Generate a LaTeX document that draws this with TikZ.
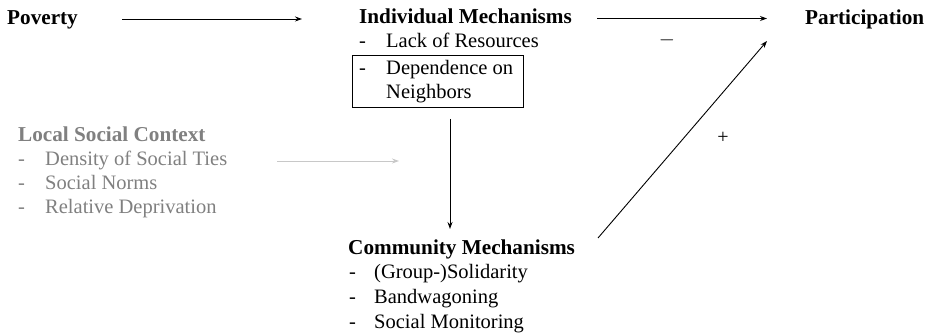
\documentclass[tikz,border=0pt]{standalone}
\usepackage{fontspec}
\setmainfont{Liberation Serif}
\usetikzlibrary{arrows.meta}
\definecolor{ctxgray}{RGB}{128,128,128}
\definecolor{ctxarrow}{RGB}{200,200,200}
\tikzset{
  txt/.style={inner sep=0pt, anchor=base west, font=\fontsize{20.5}{24}\selectfont},
  head/.style={txt, font=\fontsize{21.2}{24}\selectfont\bfseries},
  arr/.style={line width=0.9pt, -{Stealth[length=7pt,width=5pt]}},
  grayarr/.style={arr, draw=ctxarrow},
  sign/.style={inner sep=0pt, font=\fontsize{20}{24}\selectfont},
  ctx/.style={text=ctxgray},
  markbox/.style={draw, line width=0.9pt, inner sep=0pt, minimum width=171pt, minimum height=52pt}
}
\begin{document}
\begin{tikzpicture}[x=1pt, y=-1pt]
\useasboundingbox (0,0) rectangle (932,336);

% Poverty
\node[head] (pov) at (7,25) {Poverty};

% Individual mechanisms
\node[head] (ind) at (359,24) {Individual Mechanisms};
\node[txt] (ind1d) at (359,48) {-};
\node[txt] (ind1) at (386,48) {Lack of Resources};
\node[markbox] (box) at (438,81) {};
\node[txt] (ind2d) at (359,75) {-};
\node[txt] (ind2) at (386,75) {Dependence on};
\node[txt] (ind2b) at (386,99) {Neighbors};

% Participation
\node[head] (part) at (805,25) {Participation};

% Local social context
\node[head, ctx] (loc) at (18,142) {Local Social Context};
\node[txt, ctx] (loc1d) at (18,166) {-};
\node[txt, ctx] (loc1) at (45,166) {Density of Social Ties};
\node[txt, ctx] (loc2d) at (18,190) {-};
\node[txt, ctx] (loc2) at (45,190) {Social Norms};
\node[txt, ctx] (loc3d) at (18,214) {-};
\node[txt, ctx] (loc3) at (45,214) {Relative Deprivation};

% Community mechanisms
\node[head] (com) at (348,255) {Community Mechanisms};
\node[txt] (com1d) at (349,279) {-};
\node[txt] (com1) at (374,279) {(Group-)Solidarity};
\node[txt] (com2d) at (349,304) {-};
\node[txt] (com2) at (374,304) {Bandwagoning};
\node[txt] (com3d) at (349,329) {-};
\node[txt] (com3) at (374,329) {Social Monitoring};

% signs
\node[sign] (minus) at (667,40) {$-$};
\node[sign] (plus) at (723,138) {+};

% connector end points
\coordinate (a1s) at (122,19);
\coordinate (a1e) at (302,19);
\coordinate (a2s) at (597,18.5);
\coordinate (a2e) at (767,18.5);
\coordinate (a3s) at (450,119);
\coordinate (a3e) at (450,229);
\coordinate (a4s) at (598,238);
\coordinate (a4e) at (767,41);
\coordinate (a5s) at (277,161);
\coordinate (a5e) at (399,161);

\draw[arr] (a1s) -- (a1e);
\draw[arr] (a2s) -- (a2e);
\draw[arr] (a3s) -- (a3e);
\draw[arr] (a4s) -- (a4e);
\draw[grayarr] (a5s) -- (a5e);
\end{tikzpicture}
\end{document}
